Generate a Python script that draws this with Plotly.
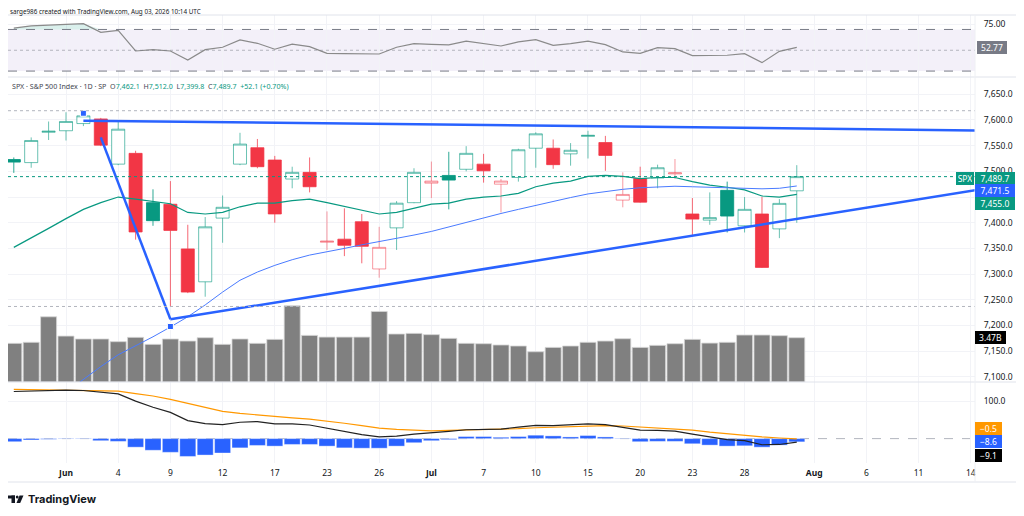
import plotly.graph_objects as go

# Daily SPX bars (trading days only)
dates = [
    "2026-05-27", "2026-05-28", "2026-05-29",
    "2026-06-01", "2026-06-02", "2026-06-03", "2026-06-04", "2026-06-05",
    "2026-06-08", "2026-06-09", "2026-06-10", "2026-06-11", "2026-06-12",
    "2026-06-15", "2026-06-16", "2026-06-17", "2026-06-18",
    "2026-06-22", "2026-06-23", "2026-06-24", "2026-06-25", "2026-06-26",
    "2026-06-29", "2026-06-30", "2026-07-01", "2026-07-02",
    "2026-07-06", "2026-07-07", "2026-07-08", "2026-07-09", "2026-07-10",
    "2026-07-13", "2026-07-14", "2026-07-15", "2026-07-16", "2026-07-17",
    "2026-07-20", "2026-07-21", "2026-07-22", "2026-07-23", "2026-07-24",
    "2026-07-27", "2026-07-28", "2026-07-29", "2026-07-30", "2026-07-31",
]
opens = [7523, 7517, 7576, 7579, 7593, 7602, 7514, 7535, 7439, 7436, 7349, 7285, 7409,
         7514, 7546, 7522, 7485, 7498, 7362, 7368, 7402, 7310, 7390, 7439, 7477, 7492,
         7504, 7514, 7475, 7488, 7545, 7545, 7534, 7568, 7556, 7444, 7486, 7487, 7495,
         7417, 7405, 7463, 7394, 7417, 7388, 7462.1]
highs = [7527, 7566, 7597, 7615, 7618, 7604, 7597, 7540, 7465, 7481, 7396, 7411, 7453,
         7575, 7563, 7530, 7509, 7527, 7422, 7428, 7417, 7392, 7442, 7506, 7519, 7538,
         7549, 7534, 7485, 7544, 7576, 7562, 7555, 7579, 7569, 7498, 7509, 7513, 7524,
         7448, 7459, 7480, 7450, 7450, 7446, 7512.0]
lows = [7497, 7507, 7561, 7560, 7588, 7549, 7512, 7367, 7394, 7237, 7263, 7256, 7361,
        7512, 7506, 7400, 7467, 7459, 7347, 7335, 7321, 7293, 7347, 7438, 7448, 7426,
        7500, 7478, 7420, 7480, 7507, 7505, 7511, 7525, 7501, 7430, 7439, 7467, 7485,
        7376, 7396, 7381, 7381, 7312, 7370, 7399.8]
closes = [7518, 7560, 7578, 7597, 7608, 7551, 7582, 7382, 7404, 7385, 7265, 7392, 7430,
          7553, 7509, 7417, 7498, 7470, 7364, 7356, 7354, 7352, 7438, 7498, 7481, 7483,
          7535, 7501, 7481, 7542, 7573, 7513, 7541, 7570, 7531, 7455, 7440, 7507, 7497,
          7407, 7410, 7413, 7426, 7313, 7437.6, 7489.7]
prior_close = 7505

volume_b = [3.03, 3.11, 5.11, 3.60, 3.37, 3.37, 3.16, 3.50, 2.95, 3.37, 3.21, 3.47, 2.95,
            3.37, 3.03, 3.34, 5.98, 3.65, 3.52, 3.52, 3.52, 5.53, 3.76, 3.81, 3.71, 3.42,
            3.03, 3.00, 2.90, 2.82, 2.37, 2.71, 2.82, 3.11, 3.21, 3.39, 2.71, 2.87, 3.00,
            3.34, 3.05, 3.11, 3.68, 3.68, 3.63, 3.47]

ma_fast = [7352, 7370, 7389, 7408, 7426, 7439, 7450, 7446, 7442, 7437, 7420, 7417, 7420,
           7431, 7438, 7438, 7443, 7446, 7439, 7432, 7424, 7417, 7420, 7428, 7436, 7438,
           7446, 7450, 7452, 7457, 7470, 7477, 7481, 7490, 7492, 7490, 7486, 7488, 7488,
           7480, 7473, 7469, 7464, 7452, 7450, 7455.0]
ma_slow = [7000, 7020, 7045, 7070, 7095, 7120, 7143, 7160, 7178, 7197, 7217, 7240, 7265,
           7288, 7304, 7317, 7328, 7337, 7343, 7350, 7357, 7363, 7369, 7376, 7383, 7392,
           7401, 7410, 7418, 7426, 7434, 7442, 7449, 7456, 7461, 7465, 7468, 7470, 7471,
           7470, 7469, 7468, 7467, 7466, 7467, 7471.5]

rsi = [71.3, 73.4, 74.1, 75.0, 75.6, 67.3, 69.2, 49.3, 50.6, 49.3, 40.7, 50.6, 52.9,
       59.9, 56.7, 51.0, 55.8, 53.5, 47.1, 46.7, 46.7, 46.4, 52.9, 56.3, 55.6, 55.1,
       58.7, 56.1, 54.1, 58.0, 60.2, 54.8, 56.3, 58.7, 55.4, 48.4, 47.1, 52.5, 51.5,
       44.8, 44.8, 45.2, 46.7, 38.1, 49.0, 52.77]

macd = [125.6, 127.4, 128.4, 129.2, 128.4, 122.9, 119.2, 100.0, 83.6, 70.0, 48.1, 40.0, 37.2,
        43.7, 45.4, 39.1, 39.1, 36.3, 27.3, 18.2, 10.9, 4.5, 6.4, 11.8, 16.4, 19.1,
        23.6, 25.4, 25.4, 30.9, 35.5, 34.6, 36.3, 39.1, 37.2, 30.0, 22.7, 21.9, 20.0,
        11.8, 4.5, -2.7, -5.5, -16.4, -15.6, -9.1]
signal = [131.5, 130.7, 130.0, 129.6, 129.2, 128.0, 126.5, 120.2, 113.7, 104.6, 93.7, 82.0, 72.7,
          67.2, 62.8, 58.2, 55.5, 51.9, 47.3, 41.0, 34.6, 28.1, 24.6, 21.9, 20.8, 21.9,
          22.7, 23.5, 24.6, 26.4, 29.0, 30.9, 31.8, 33.6, 34.6, 33.6, 30.9, 29.0, 27.3,
          22.7, 17.2, 12.6, 8.2, 4.5, 1.6, -0.5]
hist = [-8.2, -3.6, -1.8, -0.9, -0.9, -5.5, -7.3, -22.8, -31.0, -36.5, -47.5, -43.8, -38.3,
        -24.6, -18.2, -20.0, -15.5, -15.5, -20.0, -24.6, -25.5, -25.5, -20.0, -10.9, -5.5, -2.7,
        5.5, 5.5, 3.6, 5.5, 9.1, 7.3, 4.5, 8.2, 4.5, -0.9, -8.2, -7.3, -7.3,
        -13.7, -17.3, -20.0, -19.1, -22.8, -17.3, -8.6]

# trend lines drawn on the chart (start / end anchors)
top_line_dates = ["2026-06-02", "2026-08-17"]
top_line_prices = [7598.6, 7578.7]
drop_line_dates = ["2026-06-03", "2026-06-09"]
drop_line_prices = [7566, 7212]
rise_line_dates = ["2026-06-09", "2026-08-17"]
rise_line_prices = [7212, 7478]
handle_dates = ["2026-06-02", "2026-06-09"]
handle_prices = [7613, 7198]

holidays = ["2026-06-19", "2026-07-03"]
tick_dates = ["2026-06-01", "2026-06-04", "2026-06-09", "2026-06-12", "2026-06-17",
              "2026-06-23", "2026-06-26", "2026-07-01", "2026-07-07", "2026-07-10",
              "2026-07-15", "2026-07-20", "2026-07-23", "2026-07-28", "2026-08-03",
              "2026-08-06", "2026-08-11", "2026-08-14"]
tick_text = ["<b>Jun</b>", "4", "9", "12", "17", "23", "26", "<b>Jul</b>", "7", "10",
             "15", "20", "23", "28", "<b>Aug</b>", "6", "11", "14"]
price_ticks = list(range(7100, 7700, 50))
hidden_price_ticks = [7450]  # sits under the last-value tags

# the page body keeps its default 8px margin, so the figure sits at (8, 8)
PX0, PY0 = 8, 8
FW, FH = 1016, 508
GREEN = "#089981"
RED = "#F23645"
BLUE = "#2962FF"
ORANGE = "#FF9800"
GRAY = "#787B86"
INK = "#131722"
GRID = "#F2F3F7"
DAY_MS = 86400000


def noon(d):
    return d + " 12:00"


def fx(p):  # page column -> paper x
    return (p - PX0) / FW


def fy(p):  # page row -> paper y
    return 1 - (p - PY0) / FH


x = [noon(d) for d in dates]
prev = [prior_close] + closes[:-1]

fig = go.Figure()

# volume (base axis, drawn under price)
fig.add_trace(go.Bar(x=x, y=volume_b, width=[0.92 * DAY_MS] * len(x), marker_color="#808080",
                     marker_line=dict(color="#d6d6d6", width=0.8),
                     xaxis="x", yaxis="y2", hoverinfo="skip"))

# hollow candles: body filled when close < open, colour by change vs previous close
groups = [
    (lambda i: closes[i] >= opens[i] and closes[i] >= prev[i], "rgba(8,153,129,0.6)", "white"),
    (lambda i: closes[i] >= opens[i] and closes[i] < prev[i], "rgba(242,54,69,0.5)", "white"),
    (lambda i: closes[i] < opens[i] and closes[i] >= prev[i], "rgba(8,153,129,0.85)", GREEN),
    (lambda i: closes[i] < opens[i] and closes[i] < prev[i], "rgba(242,54,69,0.75)", RED),
]
for sel, line_c, fill_c in groups:
    idx = [i for i in range(len(dates)) if sel(i)]
    style = dict(line=dict(color=line_c, width=1), fillcolor=fill_c)
    fig.add_trace(go.Candlestick(
        x=[x[i] for i in idx], open=[opens[i] for i in idx], high=[highs[i] for i in idx],
        low=[lows[i] for i in idx], close=[closes[i] for i in idx],
        increasing=style, decreasing=style, whiskerwidth=0,
        xaxis="x", yaxis="y5", hoverinfo="skip"))

fig.add_trace(go.Scatter(x=x, y=ma_fast, mode="lines", line=dict(color=GREEN, width=1.2),
                         xaxis="x", yaxis="y5", hoverinfo="skip"))
fig.add_trace(go.Scatter(x=x, y=ma_slow, mode="lines", line=dict(color="#4a7bff", width=1),
                         xaxis="x", yaxis="y5", hoverinfo="skip"))

for ds, ps in [(top_line_dates, top_line_prices), (drop_line_dates, drop_line_prices),
               (rise_line_dates, rise_line_prices)]:
    fig.add_trace(go.Scatter(x=[noon(d) for d in ds], y=ps, mode="lines",
                             line=dict(color=BLUE, width=2.5), xaxis="x", yaxis="y5",
                             hoverinfo="skip"))
fig.add_trace(go.Scatter(x=[noon(d) for d in handle_dates], y=handle_prices, mode="markers",
                         marker=dict(symbol="square", size=6, color=BLUE,
                                     line=dict(color="white", width=1)),
                         xaxis="x", yaxis="y5", hoverinfo="skip"))

# RSI with overbought fill
fig.add_trace(go.Scatter(x=x, y=[70] * len(x), mode="lines", line=dict(width=0),
                         xaxis="x", yaxis="y", hoverinfo="skip"))
fig.add_trace(go.Scatter(x=x, y=[max(r, 70) for r in rsi], mode="lines", line=dict(width=0),
                         fill="tonexty", fillcolor="rgba(8,153,129,0.15)",
                         xaxis="x", yaxis="y", hoverinfo="skip"))
fig.add_trace(go.Scatter(x=x, y=rsi, mode="lines", line=dict(color="#8a8a8a", width=1.2),
                         xaxis="x", yaxis="y", hoverinfo="skip"))

# MACD
fig.add_trace(go.Bar(x=x, y=hist, width=[0.92 * DAY_MS] * len(x), marker_color=BLUE,
                     marker_line=dict(color="rgba(255,255,255,0.6)", width=0.6),
                     xaxis="x", yaxis="y3", hoverinfo="skip"))
fig.add_trace(go.Scatter(x=x, y=signal, mode="lines", line=dict(color=ORANGE, width=1.2),
                         xaxis="x", yaxis="y3", hoverinfo="skip"))
fig.add_trace(go.Scatter(x=x, y=macd, mode="lines", line=dict(color="#222222", width=1.2),
                         xaxis="x", yaxis="y3", hoverinfo="skip"))

axis_common = dict(side="right", anchor="x", showline=False, zeroline=False,
                   gridcolor=GRID, ticks="outside", ticklen=6, tickcolor="rgba(0,0,0,0)",
                   tickfont=dict(size=8.5, color=INK), automargin=False)

fig.update_layout(
    width=FW, height=FH, margin=dict(l=0, r=0, t=0, b=0),
    paper_bgcolor="white", plot_bgcolor="white", showlegend=False,
    boxgap=0, boxgroupgap=0.25, barmode="overlay",
    font=dict(family="Noto Sans", size=9, color=INK),
    xaxis=dict(domain=[0, fx(975)], anchor="y3", type="date",
               range=["2026-05-27 04:00", "2026-08-14 17:50"],
               rangebreaks=[dict(bounds=["sat", "mon"]), dict(values=holidays)],
               tickvals=[noon(d) for d in tick_dates], ticktext=tick_text,
               showgrid=True, gridcolor=GRID, zeroline=False, showline=False,
               ticks="outside", ticklen=2, tickcolor="rgba(0,0,0,0)",
               tickfont=dict(size=8.5, color=INK), rangeslider=dict(visible=False),
               automargin=False),
    yaxis=dict(domain=[fy(77), fy(15)], range=[24.3, 83.9], tickvals=[75], tickformat=".2f",
               **axis_common),
    yaxis2=dict(domain=[fy(382), fy(77)], range=[0, 23.9], visible=False, anchor="x"),
    yaxis5=dict(overlaying="y2", range=[7090, 7683.6], tickvals=price_ticks,
                ticktext=["" if v in hidden_price_ticks else f"{v:,.1f}" for v in price_ticks],
                **axis_common),
    yaxis3=dict(domain=[fy(463), fy(382)], range=[-65, 151], tickvals=[100], tickformat=".1f",
                **axis_common),
)

shapes = [
    # RSI band and levels
    dict(type="rect", xref="x domain", yref="y", x0=0, x1=1, y0=30, y1=70,
         fillcolor="rgba(126,87,194,0.09)", line_width=0, layer="below"),
    dict(type="line", xref="x domain", yref="y", x0=0, x1=1, y0=70, y1=70,
         line=dict(color=GRAY, width=1, dash="dash")),
    dict(type="line", xref="x domain", yref="y", x0=0, x1=1, y0=30, y1=30,
         line=dict(color=GRAY, width=1, dash="dash")),
    dict(type="line", xref="x domain", yref="y", x0=0, x1=1, y0=50, y1=50,
         line=dict(color="rgba(120,123,134,0.5)", width=1, dash="dot")),
    # visible high / low and last price
    dict(type="line", xref="x domain", yref="y5", x0=0, x1=1, y0=max(highs), y1=max(highs),
         line=dict(color="#B2B5BE", width=1, dash="dot")),
    dict(type="line", xref="x domain", yref="y5", x0=0, x1=1, y0=min(lows), y1=min(lows),
         line=dict(color="#B2B5BE", width=1, dash="dot")),
    dict(type="line", xref="x domain", yref="y5", x0=0, x1=1, y0=closes[-1], y1=closes[-1],
         line=dict(color=GREEN, width=1, dash="dot")),
    # MACD zero
    dict(type="line", xref="x domain", yref="y3", x0=0, x1=1, y0=0, y1=0,
         line=dict(color="#B2B5BE", width=1, dash="dash"), layer="below"),
]
# pane frame
for yy in [15, 77, 382, 482]:
    shapes.append(dict(type="line", xref="paper", yref="paper", x0=0, x1=fx(1017),
                       y0=fy(yy), y1=fy(yy), line=dict(color="#E0E3EB", width=1)))
for xx in [975, 1017]:
    shapes.append(dict(type="line", xref="paper", yref="paper", x0=fx(xx), x1=fx(xx),
                       y0=fy(482), y1=fy(15), line=dict(color="#EEF0F4", width=1)))
# TradingView logo mark
shapes += [
    dict(type="rect", xref="paper", yref="paper", x0=fx(7), x1=fx(15), y0=fy(498.5), y1=fy(495.5),
         fillcolor=INK, line_width=0),
    dict(type="rect", xref="paper", yref="paper", x0=fx(11.5), x1=fx(15), y0=fy(503), y1=fy(495.5),
         fillcolor=INK, line_width=0),
    dict(type="circle", xref="paper", yref="paper", x0=fx(15.8), x1=fx(18.6), y0=fy(498.6),
         y1=fy(495.6), fillcolor=INK, line_width=0),
    dict(type="path", xref="paper", yref="paper", fillcolor=INK, line_width=0,
         path=f"M {fx(19.5)} {fy(495.5)} L {fx(23.5)} {fy(495.5)} L {fx(20.2)} {fy(503)} "
              f"L {fx(16.5)} {fy(503)} Z"),
]
fig.update_layout(shapes=shapes)


def tag(text, yref, y, bg, width, yshift=0, xpos=975, xanchor="left"):
    return dict(text=text, xref="paper", x=fx(xpos), xanchor=xanchor, yref=yref, y=y,
                yanchor="middle", yshift=yshift, showarrow=False, bgcolor=bg, width=width,
                height=9, valign="middle", align="center", borderpad=2, borderwidth=0,
                font=dict(size=8.5, color="white"))


g = lambda v: f"{v:,.1f}"
m = lambda v: f"{v:.1f}".replace("-", "\u2212")
annotations = [
    dict(text="sarge986 created with TradingView.com, Aug 03, 2026 10:14 UTC",
         xref="paper", yref="paper", x=fx(8), y=fy(11.5), xanchor="left", yanchor="middle",
         showarrow=False, font=dict(size=6.3, color=INK)),
    dict(text=("SPX · S&P 500 Index · 1D · SP\u00a0\u00a0"
               f"O<span style='color:{GREEN}'>{g(opens[-1])}</span>\u00a0\u00a0"
               f"H<span style='color:{GREEN}'>{g(highs[-1])}</span>\u00a0\u00a0"
               f"L<span style='color:{GREEN}'>{g(lows[-1])}</span>\u00a0\u00a0"
               f"C<span style='color:{GREEN}'>{g(closes[-1])}</span>\u00a0\u00a0"
               f"<span style='color:{GREEN}'>+{closes[-1] - closes[-2]:.1f} "
               f"(+{(closes[-1] / closes[-2] - 1) * 100:.2f}%)</span>"),
         xref="paper", yref="paper", x=fx(10), y=fy(86), xanchor="left", yanchor="middle",
         showarrow=False, font=dict(size=7.1, color="#434651")),
    dict(text="<b>TradingView</b>", xref="paper", yref="paper", x=fx(26), y=fy(499),
         xanchor="left", yanchor="middle", showarrow=False,
         font=dict(size=11, color=INK, family="Inter")),
    tag(f"{rsi[-1]:.2f}", "y", rsi[-1], GRAY, 26, xpos=977),
    tag("SPX", "y5", closes[-1], GREEN, 14, xpos=974, xanchor="right", yshift=-1.5),
    tag(g(closes[-1]), "y5", closes[-1], GREEN, 36, yshift=-1.5),
    tag(g(ma_slow[-1]), "y5", ma_slow[-1], BLUE, 36, yshift=-4.8),
    tag(g(ma_fast[-1]), "y5", ma_fast[-1], GREEN, 36, yshift=-8.8),
    tag(f"{volume_b[-1]:.2f}B", "y2", volume_b[-1], "#000000", 27),
    tag(m(signal[-1]), "y3", signal[-1], ORANGE, 23, yshift=10),
    tag(m(hist[-1]), "y3", hist[-1], BLUE, 23),
    tag(m(macd[-1]), "y3", macd[-1], "#000000", 23, yshift=-13.4),
]
fig.update_layout(annotations=annotations)

fig.write_html("out.html")
